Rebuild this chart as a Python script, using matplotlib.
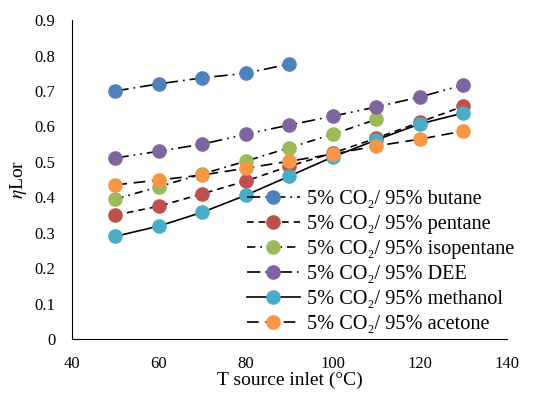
"""
    Lorentz efficiency vs source inlet temperature
"""

import matplotlib
matplotlib.use("Agg")
import matplotlib.pyplot as plt

plt.rcParams["font.family"] = ["Liberation Serif", "DejaVu Serif"]
plt.rcParams["mathtext.fontset"] = "stix"

T = [50, 60, 70, 80, 90, 100, 110, 120, 130]

butane = [0.700, 0.720, 0.737, 0.750, 0.776]
pentane = [0.350, 0.375, 0.410, 0.446, 0.488, 0.525, 0.567, 0.612, 0.657]
isopentane = [0.395, 0.430, 0.466, 0.502, 0.540, 0.578, 0.620]
dee = [0.511, 0.530, 0.550, 0.578, 0.604, 0.629, 0.655, 0.683, 0.717]
methanol = [0.290, 0.319, 0.358, 0.406, 0.460, 0.514, 0.562, 0.607, 0.638]
acetone = [0.435, 0.449, 0.463, 0.482, 0.502, 0.522, 0.545, 0.564, 0.587]

labels = ["5% CO₂/ 95% butane", "5% CO₂/ 95% pentane", "5% CO₂/ 95% isopentane",
          "5% CO₂/ 95% DEE", "5% CO₂/ 95% methanol", "5% CO₂/ 95% acetone"]

#####################################################################################################

series = [butane, pentane, isopentane, dee, methanol, acetone]
colors = ["#4F81BD", "#C0504D", "#9BBB59", "#8064A2", "#4BACC6", "#F79646"]
dashes = [(8, 3, 1, 3), (4, 3), (5, 3, 1, 3), (8, 3, 1, 3, 1, 3), (), (7, 4)]

fig = plt.figure(figsize=(5.33, 3.93), dpi=100)
ax = fig.add_axes([0.135, 0.137, 0.816, 0.812])

for y, lab, c, d in zip(series, labels, colors, dashes):
    ax.plot(T[:len(y)], y, color="black", lw=1.2, dashes=d, marker="o",
            markersize=9.5, markerfacecolor=c, markeredgecolor=c, label=lab)

ax.set_xlim(40, 140)
ax.set_ylim(0, 0.9)
ax.set_xticks(range(40, 141, 20))
ax.set_yticks([i / 10 for i in range(10)])
ax.set_yticklabels(["0"] + ["{:.1f}".format(i / 10) for i in range(1, 10)])
ax.tick_params(length=0, labelsize=12)
ax.tick_params(axis="x", pad=12)
ax.tick_params(axis="y", pad=12)
ax.spines["top"].set_visible(False)
ax.spines["right"].set_visible(False)

ax.set_xlabel("T source inlet (°C)", fontsize=14, labelpad=0)
ax.set_ylabel(r"$\eta$Lor", fontsize=14, labelpad=4)

fig.legend(loc="upper left", bbox_to_anchor=(0.463, 0.517), frameon=False,
           fontsize=14.6, handlelength=2.6, handletextpad=0.35,
           labelspacing=0.285, borderpad=0.0, borderaxespad=0.0)

plt.savefig("out.png", dpi=100)
